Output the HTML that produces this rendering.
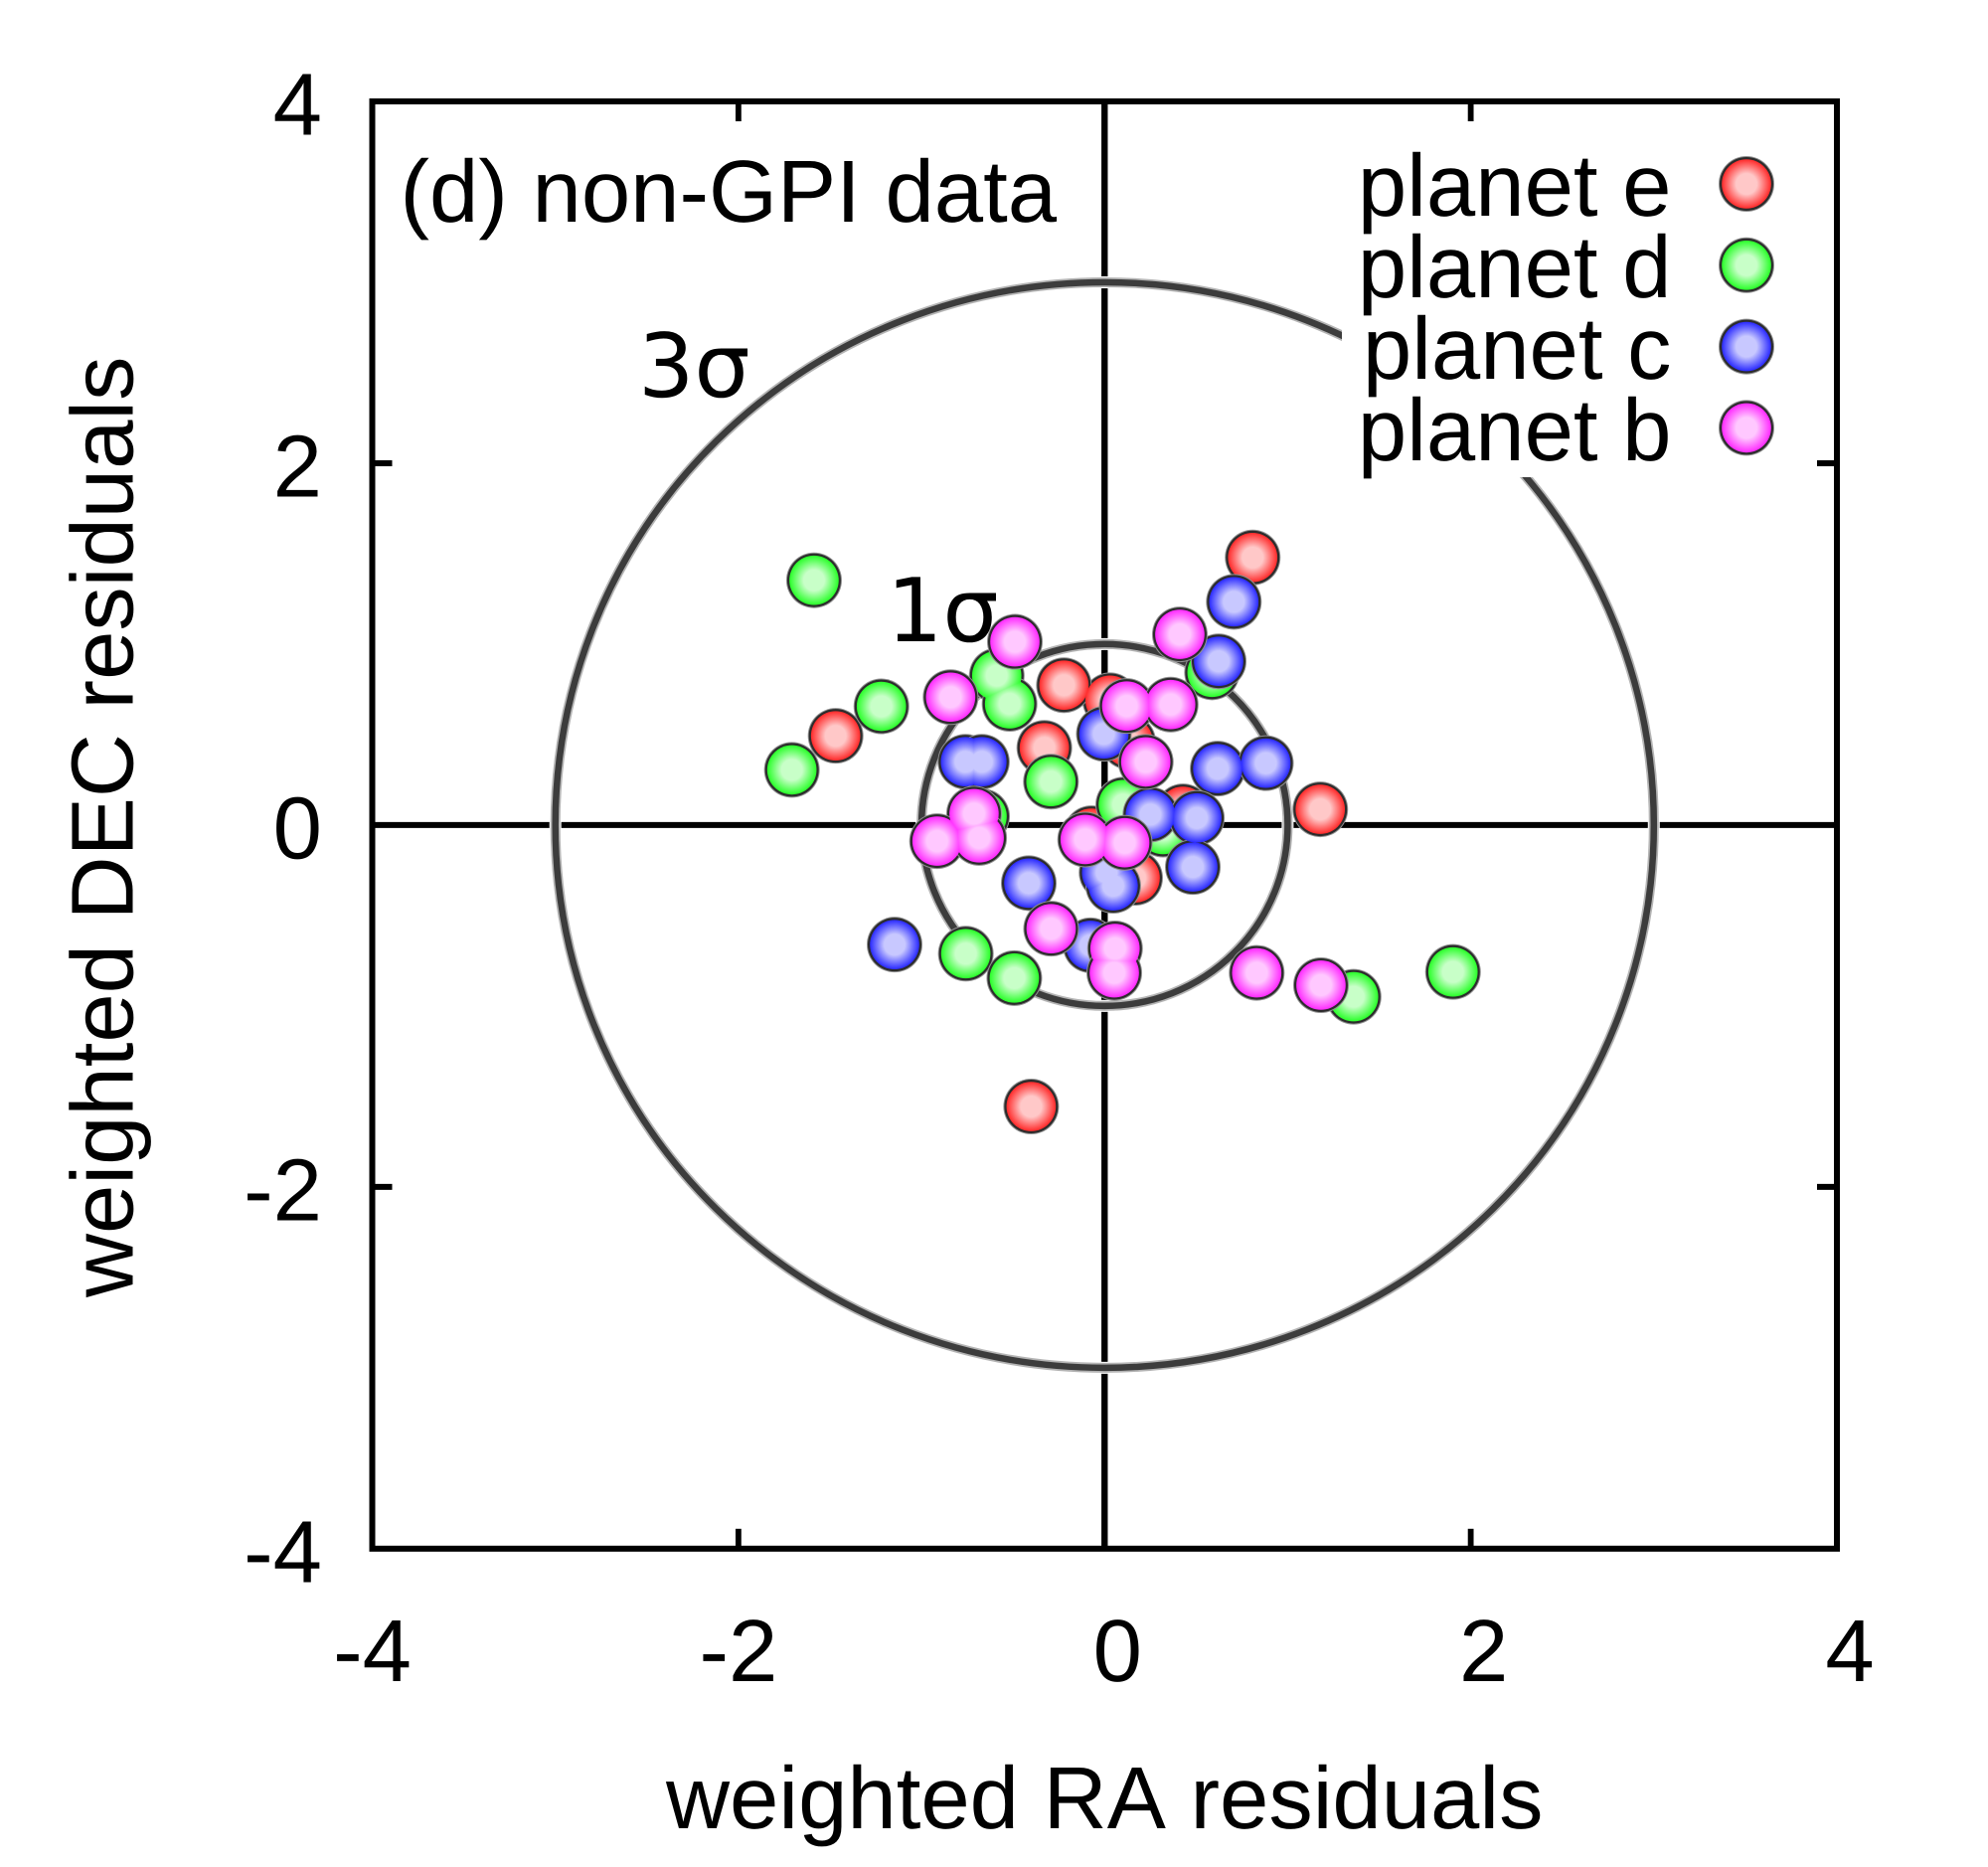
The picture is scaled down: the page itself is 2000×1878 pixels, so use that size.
<!DOCTYPE html>
<html lang="en">
<head>
<meta charset="utf-8">
<title>Weighted residuals: non-GPI data</title>
<style>
html,body{margin:0;padding:0;background:#fff;}
#chart{display:block;position:absolute;left:0;top:0;}
text{font-family:"Liberation Sans",sans-serif;font-size:88.7px;fill:#000;font-kerning:none;text-rendering:geometricPrecision;}
text.sigma{font-family:"DejaVu Sans",sans-serif;}
.fill-layer{isolation:isolate;}
.fill-layer circle{mix-blend-mode:lighten;}
</style>
</head>
<body>
<svg id="chart" xmlns="http://www.w3.org/2000/svg" width="2000" height="1878" viewBox="0 0 2000 1878">
<defs>
<radialGradient id="grad-e"><stop offset="0.42" stop-color="#ffc8c8"/><stop offset="1" stop-color="#ff2a2a"/></radialGradient>
<radialGradient id="grad-d"><stop offset="0.42" stop-color="#c8ffc8"/><stop offset="1" stop-color="#2aff2a"/></radialGradient>
<radialGradient id="grad-c"><stop offset="0.42" stop-color="#c8c8ff"/><stop offset="1" stop-color="#2a2aff"/></radialGradient>
<radialGradient id="grad-b"><stop offset="0.42" stop-color="#ffc8ff"/><stop offset="1" stop-color="#ff2aff"/></radialGradient>
</defs>
<rect x="0" y="0" width="2000" height="1878" fill="#fff"/>
<g id="axes-lines"></g>
<g id="rings"></g>
<rect x="1350" y="106" width="494" height="374" fill="#fff"/>
<g id="frame"></g>
<g id="tick-labels"></g>
<text x="402.5" y="223">(d) non-GPI data</text>
<text class="sigma" x="642" y="399">3σ</text>
<text class="sigma" x="892" y="645">1σ</text>
<text x="670" y="1839">weighted RA residuals</text>
<text transform="translate(133.3,1305) rotate(-90)" x="0" y="0">weighted DEC residuals</text>
<g id="points"></g>
<g id="legend"></g>
</svg>
<script>
const xTicks = [-4, -2, 0, 2, 4];
const yTicks = [-4, -2, 0, 2, 4];
const sigmaRadii = [1, 3];

const planetEX = [0.809, 0.03, -1.469, -0.222, -0.329, 0.129, 0.428, -0.072, 0.167, 1.178, -0.401];
const planetEY = [1.479, 0.69, 0.493, 0.773, 0.427, 0.46, 0.076, -0.045, -0.292, 0.087, -1.556];

const planetDX = [-1.587, -1.219, -1.708, -0.589, -0.519, -0.293, 0.587, 0.102, 0.319, -0.669, -0.758, -0.493, 1.36, 1.903];
const planetDY = [1.353, 0.656, 0.305, 0.826, 0.67, 0.24, 0.844, 0.113, -0.025, 0.048, -0.711, -0.846, -0.949, -0.812];

const planetCX = [0.706, 0.623, -0.004, -0.76, -0.67, 0.618, 0.881, 0.25, 0.504, 0.482, 0.011, 0.047, -0.414, -0.077, -1.147];
const planetCY = [1.234, 0.905, 0.504, 0.35, 0.35, 0.312, 0.342, 0.058, 0.039, -0.232, -0.263, -0.336, -0.321, -0.665, -0.661];

const planetBX = [-0.841, -0.49, 0.411, 0.121, 0.361, 0.225, -0.713, -0.915, -0.685, -0.106, 0.11, -0.292, 0.057, 0.053, 0.831, 1.182];
const planetBY = [0.707, 1.013, 1.054, 0.658, 0.666, 0.349, 0.063, -0.089, -0.071, -0.08, -0.098, -0.573, -0.682, -0.817, -0.817, -0.885];

const legendLabels = ["planet e", "planet d", "planet c", "planet b"];
const seriesKeys = ["e", "d", "c", "b"];

const SVGNS = "http://www.w3.org/2000/svg";
const plotLeft = 374.5, plotRight = 1848, plotTop = 102, plotBottom = 1557.8;
const xMin = -4, xMax = 4, yMin = -4, yMax = 4;

function xPos(v) { return plotLeft + (v - xMin) / (xMax - xMin) * (plotRight - plotLeft); }
function yPos(v) { return plotBottom - (v - yMin) / (yMax - yMin) * (plotBottom - plotTop); }
function xLen(v) { return v / (xMax - xMin) * (plotRight - plotLeft); }
function yLen(v) { return v / (yMax - yMin) * (plotBottom - plotTop); }

function make(tag, attrs, parent) {
  const el = document.createElementNS(SVGNS, tag);
  for (const k in attrs) el.setAttribute(k, attrs[k]);
  parent.appendChild(el);
  return el;
}

/* zero axes */
const axesGroup = document.getElementById("axes-lines");
const hAxis = make("line", {x1: plotLeft, x2: plotRight, y1: yPos(0), y2: yPos(0), stroke: "#000", "stroke-width": 6}, axesGroup);


const vAxis = make("line", {x1: xPos(0), x2: xPos(0), y1: plotTop, y2: plotBottom, stroke: "#000", "stroke-width": 6.4}, axesGroup);



/* sigma rings */
const ringsGroup = document.getElementById("rings");
sigmaRadii.forEach(function (r) {
  const base = {cx: xPos(0), cy: yPos(0), rx: xLen(r), ry: yLen(r), fill: "none"};
  const halo = make("ellipse", Object.assign({}, base, {stroke: "#fff", "stroke-width": 12}), ringsGroup);
  
  
  const fringe = make("ellipse", Object.assign({}, base, {stroke: "#b4b4b4", "stroke-width": 10}), ringsGroup);
  
  
  const ring = make("ellipse", Object.assign({}, base, {stroke: "#3c3c3c", "stroke-width": 6.5}), ringsGroup);
  
  
});

/* frame and ticks */
const frameGroup = document.getElementById("frame");
const frameRect = make("rect", {x: plotLeft, y: plotTop, width: plotRight - plotLeft, height: plotBottom - plotTop, fill: "none", stroke: "#000", "stroke-width": 6}, frameGroup);


const tickLen = 20;
xTicks.slice(1, -1).forEach(function (v) {
  if (v === 0) return;
  const t1 = make("line", {x1: xPos(v), x2: xPos(v), y1: plotBottom, y2: plotBottom - tickLen, stroke: "#000", "stroke-width": 5.8}, frameGroup);
  
  
  const t2 = make("line", {x1: xPos(v), x2: xPos(v), y1: plotTop, y2: plotTop + tickLen, stroke: "#000", "stroke-width": 5.8}, frameGroup);
  
  
});
yTicks.slice(1, -1).forEach(function (v) {
  if (v === 0) return;
  const t1 = make("line", {x1: plotLeft, x2: plotLeft + tickLen, y1: yPos(v), y2: yPos(v), stroke: "#000", "stroke-width": 6}, frameGroup);
  
  
  const t2 = make("line", {x1: plotRight, x2: plotRight - tickLen, y1: yPos(v), y2: yPos(v), stroke: "#000", "stroke-width": 6}, frameGroup);
  
  
});

/* tick labels */
const labelGroup = document.getElementById("tick-labels");
xTicks.forEach(function (v) {
  const label = make("text", {x: xPos(v) + (v >= 0 ? 13 : 0), y: 1691, "text-anchor": "middle"}, labelGroup);
  label.textContent = String(v);
  
  
});
yTicks.forEach(function (v) {
  const label = make("text", {x: 324, y: yPos(v) + 33.5, "text-anchor": "end"}, labelGroup);
  label.textContent = String(v);
  
  
});

/* points: all borders of a series first, then all fills blended with lighten, so same-colour overlaps merge */
function drawBorder(group, cx, cy) {
  const fringe = make("circle", {cx: cx, cy: cy, r: 28, fill: "#909090"}, group);
  
  
  const border = make("circle", {cx: cx, cy: cy, r: 27, fill: "#2c2c2c"}, group);
  
  
}
function drawFill(group, cx, cy, key) {
  const fill = make("circle", {cx: cx, cy: cy, r: 24.8, fill: "url(#grad-" + key + ")"}, group);
  
  
}
const seriesX = [planetEX, planetDX, planetCX, planetBX];
const seriesY = [planetEY, planetDY, planetCY, planetBY];
const pointsGroup = document.getElementById("points");
seriesKeys.forEach(function (key, s) {
  const group = make("g", {}, pointsGroup);
  
  
  const fills = document.createElementNS(SVGNS, "g");
  
  
  fills.setAttribute('class', 'fill-layer');
  seriesX[s].forEach(function (vx, i) { drawBorder(group, xPos(vx), yPos(seriesY[s][i])); });
  group.appendChild(fills);
  seriesX[s].forEach(function (vx, i) { drawFill(fills, xPos(vx), yPos(seriesY[s][i]), key); });
});

/* legend */
const legendGroup = document.getElementById("legend");
legendLabels.forEach(function (name, i) {
  const entry = make("g", {}, legendGroup);
  
  
  const label = make("text", {x: 1681.5, y: 217 + i * 82, "text-anchor": "end"}, entry);
  label.textContent = name;
  
  
  drawBorder(entry, 1757, 185 + i * 81.8);
  drawFill(entry, 1757, 185 + i * 81.8, seriesKeys[i]);
});
</script>
</body>
</html>
